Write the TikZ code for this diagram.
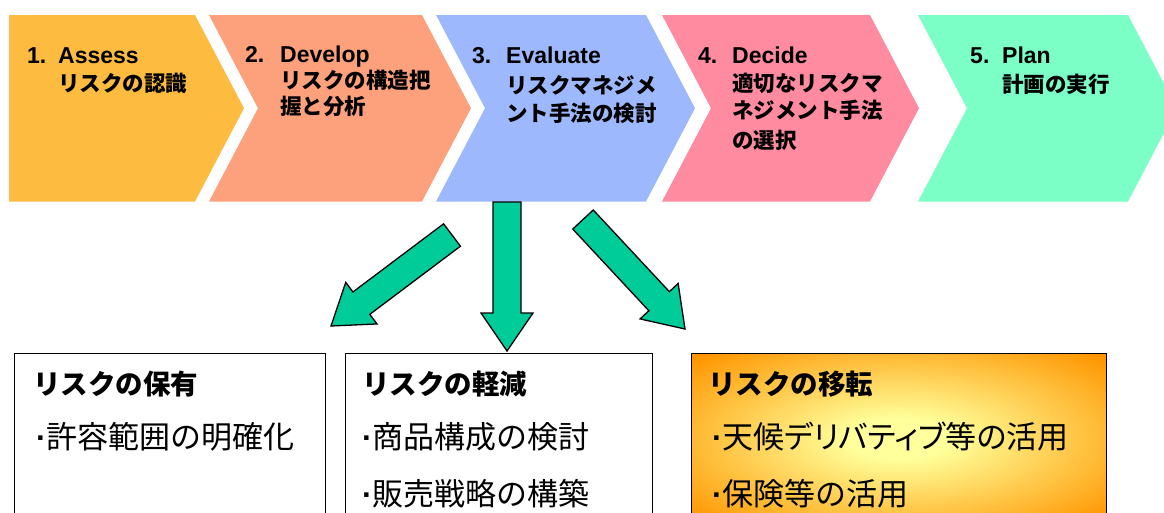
\documentclass[tikz,border=0pt]{standalone}
\usepackage{fontspec}
\setmainfont{Liberation Sans}
\newfontfamily\jp{Noto Sans CJK JP}
\newfontfamily\jpp{Noto Sans CJK JP}[RawFeature=+palt]
\usetikzlibrary{calc}
\definecolor{cA}{RGB}{253,187,64}
\definecolor{cB}{RGB}{252,161,124}
\definecolor{cC}{RGB}{157,184,252}
\definecolor{cD}{RGB}{254,139,160}
\definecolor{cE}{RGB}{124,255,198}
\definecolor{arrowg}{RGB}{0,204,153}
\definecolor{glowin}{RGB}{255,255,155}
\definecolor{glowout}{RGB}{255,150,0}
\pgfdeclareradialshading{boxglow}{\pgfpoint{0bp}{0bp}}{color(0bp)=(glowin); color(6bp)=(glowin); color(34bp)=(glowout); color(50bp)=(glowout)}
\tikzset{
  lat/.style={font=\fontsize{23}{23}\selectfont\bfseries, anchor=base west, inner sep=0pt},
  jl/.style={font=\jp\fontsize{21.5}{21.5}\selectfont\bfseries, anchor=base west, inner sep=0pt},
  btitle/.style={font=\jp\fontsize{27.5}{27.5}\selectfont\bfseries, anchor=base west, inner sep=0pt},
  bitem/.style={font=\fontsize{31}{31}\selectfont, anchor=base west, inner sep=0pt},
  riskbox/.style={draw=black, line width=1.3pt, inner sep=0pt, anchor=north west},
  bigarrow/.style={fill=arrowg, draw=black, line width=1.3pt, line join=miter},
}
\newcommand\bdot{{\bfseries ·}}
% chevron: #1 left x, #2 top-right x, #3 colour, #4 notch depth factor
\newcommand\chev[4]{%
  \fill[#3] (#1,15) -- (#2,15) -- (#2+49,108.25) -- (#2,201.5) -- (#1,201.5) -- (#1+49*#4,108.25) -- cycle;}
% block arrow from tail coordinate #1 to tip coordinate #2
\newcommand\blockarrow[2]{%
  \draw[bigarrow] let \p1=($(#2)-(#1)$), \n1={atan2(\y1,\x1)}, \n2={veclen(\x1,\y1)} in
    ($(#1)+(\n1+90:14pt)$) --
    ($(#1)+(\n1:{\n2-38pt})+(\n1+90:14pt)$) --
    ($(#1)+(\n1:{\n2-38pt})+(\n1+90:26pt)$) --
    (#2) --
    ($(#1)+(\n1:{\n2-38pt})+(\n1-90:26pt)$) --
    ($(#1)+(\n1:{\n2-38pt})+(\n1-90:14pt)$) --
    ($(#1)+(\n1-90:14pt)$) -- cycle;}
\begin{document}
\begin{tikzpicture}[x=1pt,y=-1pt]
\useasboundingbox (0,0) rectangle (1164,512);
\clip (0,0) rectangle (1164,512);
\fill[white] (0,0) rectangle (1164,512);
% chevrons
\chev{9}{195}{cA}{0}
\chev{209}{422}{cB}{1}
\chev{436}{646}{cC}{1}
\chev{662}{870}{cD}{1}
\chev{918}{1128}{cE}{1}
% chevron texts
\node[lat] (n1) at (27,63) {1.};
\node[lat] (t1) at (58,63) {Assess};
\node[jl] (j1a) at (58,91.5) {リスクの認識};
\node[lat] (n2) at (245,62) {2.};
\node[lat] (t2) at (280,62) {Develop};
\node[jl] (j2a) at (280,88.5) {リスクの構造把};
\node[jl] (j2b) at (280,114.5) {握と分析};
\node[lat] (n3) at (472,63) {3.};
\node[lat] (t3) at (506,63) {Evaluate};
\node[jl] (j3a) at (506,93) {リスクマネジメ};
\node[jl] (j3b) at (506,121) {ント手法の検討};
\node[lat] (n4) at (698,63) {4.};
\node[lat] (t4) at (732,63) {Decide};
\node[jl] (j4a) at (732,91.5) {適切なリスクマ};
\node[jl] (j4b) at (732,118.5) {ネジメント手法};
\node[jl] (j4c) at (732,148) {の選択};
\node[lat] (n5) at (970,63) {5.};
\node[lat] (t5) at (1002,63) {Plan};
\node[jl] (j5a) at (1002,92.5) {計画の実行};
% boxes
\node[riskbox, minimum width=311pt, minimum height=180pt] (b1) at (14,353) {};
\node[riskbox, minimum width=307pt, minimum height=180pt] (b2) at (345,353) {};
\node[riskbox, shading=boxglow, minimum width=415pt, minimum height=170pt] (b3) at (691,353) {};
\node[btitle] (h1) at (33,394) {リスクの保有};
\node[bitem] (i1a) at (36,448) {\bdot{\jp 許容範囲の明確化}};
\node[btitle] (h2) at (362,394) {リスクの軽減};
\node[bitem] (i2a) at (362,448) {\bdot{\jp 商品構成の検討}};
\node[bitem] (i2b) at (362,505) {\bdot{\jp 販売戦略の構築}};
\node[btitle] (h3) at (708,394) {リスクの移転};
\node[bitem] (i3a) at (712,448) {\bdot{\jpp 天候デリバティブ等の活用}};
\node[bitem] (i3b) at (712,505) {\bdot{\jp 保険等の活用}};
% arrows
\coordinate (lt) at (452,235);
\coordinate (lp) at (331,326);
\coordinate (mt) at (507,202);
\coordinate (mp) at (507,351);
\coordinate (rt) at (583,219.5);
\coordinate (rp) at (685,329);
\blockarrow{lt}{lp}
\blockarrow{mt}{mp}
\blockarrow{rt}{rp}
\end{tikzpicture}
\end{document}
